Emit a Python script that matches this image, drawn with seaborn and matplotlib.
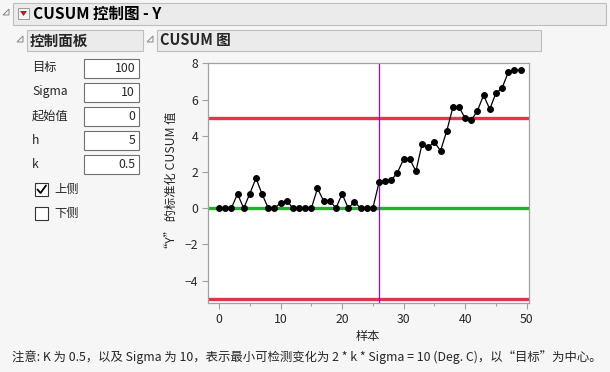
import matplotlib
matplotlib.use("Agg")
import matplotlib.pyplot as plt
import seaborn as sns
import pandas as pd
from matplotlib.patches import Rectangle, Polygon

sns.set_theme(style="white")
plt.rcParams['font.family'] = ['Noto Sans CJK SC', 'DejaVu Sans']

# ---- data ----
samples = list(range(50))
cusum = [0, 0, 0, 0.79, 0, 0.8, 1.66, 0.77, 0, 0,
         0.29, 0.42, 0, 0, 0, 0, 1.09, 0.40, 0.42, 0,
         0.79, 0, 0.35, 0, 0, 0, 1.42, 1.51, 1.55, 1.97,
         2.71, 2.71, 2.04, 3.55, 3.37, 3.65, 3.17, 4.25, 5.56, 5.60,
         4.96, 4.86, 5.38, 6.24, 5.47, 6.35, 6.63, 7.50, 7.61, 7.62]
h_limit = 5
center = 0
shift_at = 26
x_ticks = [0, 10, 20, 30, 40, 50]
y_ticks = [-4, -2, 0, 2, 4, 6, 8]
panel_labels = ["目标", "Sigma", "起始值", "h", "k"]
panel_values = ["100", "10", "0", "5", "0.5"]
checks = [("上侧", True), ("下侧", False)]

df = pd.DataFrame({"样本": samples, "cusum": cusum})

W, H = 610, 372
fig = plt.figure(figsize=(W / 100, H / 100), dpi=100)
fig.patch.set_facecolor("#F6F6F6")

# overlay in pixel coords
ov = fig.add_axes([0, 0, 1, 1])
ov.set_xlim(0, W)
ov.set_ylim(H, 0)
ov.axis("off")
ov.set_zorder(0)

def bar(x0, y0, x1, y1):
    ov.add_patch(Rectangle((x0, y0), x1 - x0, y1 - y0, facecolor="#EBEBEB",
                           edgecolor="#BEBEBE", lw=0.8))

def disclosure(x, y):
    ov.add_patch(Polygon([(x, y + 4), (x + 6, y + 4), (x + 6, y - 2)], closed=True,
                         facecolor="none", edgecolor="#888888", lw=0.7))

# title bar
bar(13, 3, 606, 25)
disclosure(3, 11)
ov.add_patch(Rectangle((18, 8), 11, 11, facecolor="#F4F4F4", edgecolor="#999999", lw=0.7))
ov.add_patch(Polygon([(20, 11), (27, 11), (23.5, 16)], closed=True, facecolor="#D0102A", edgecolor="none"))
ov.text(33, 14, "CUSUM 控制图 - Y", fontsize=11.2, fontweight="bold", va="center", ha="left", color="black")

# control panel bar
bar(27, 30, 143, 51)
disclosure(17, 38)
ov.text(30, 40.5, "控制面板", fontsize=10.5, fontweight="bold", va="center", ha="left")

# chart bar
bar(157, 30, 541, 51)
disclosure(147, 38)
ov.text(160, 40.5, "CUSUM 图", fontsize=10.5, fontweight="bold", va="center", ha="left")

# control panel fields
for i, (lab, val) in enumerate(zip(panel_labels, panel_values)):
    yc = 68 + i * 24
    ov.text(32, yc, lab, fontsize=8.8, va="center", ha="left")
    ov.add_patch(Rectangle((84, yc - 9), 55, 19, facecolor="white", edgecolor="#707070", lw=0.8))
    ov.text(135, yc, val, fontsize=8.8, va="center", ha="right")

for i, (lab, checked) in enumerate(checks):
    yc = 189.5 + i * 23.5
    ov.add_patch(Rectangle((35, yc - 6.5), 13, 13, facecolor="white", edgecolor="#333333", lw=0.8))
    if checked:
        ov.plot([37.5, 40.5, 46], [yc, yc + 3.5, yc - 4], color="black", lw=1.3)
    ov.text(54, yc, lab, fontsize=8.8, va="center", ha="left")

# footnote
ov.text(12, 357, "注意: K 为 0.5，以及 Sigma 为 10，表示最小可检测变化为 2 * k * Sigma = 10 (Deg. C)，以“目标”为中心。",
        fontsize=8.9, va="center", ha="left")

# ---- main chart ----
ax = fig.add_axes([208 / W, 1 - 303.3 / H, 320.5 / W, 240 / H])
ax.set_zorder(2)
ax.set_facecolor("white")
ax.axhline(h_limit, color="#EE3048", lw=2.4, zorder=2)
ax.axhline(-h_limit, color="#E2334A", lw=2.4, zorder=2)
ax.axhline(center, color="#22B030", lw=2.4, zorder=2)
ax.axvline(shift_at, color="#A000F5", lw=0.9, zorder=2)
sns.lineplot(data=df, x="样本", y="cusum", ax=ax, color="black", lw=0.9,
             marker="o", markersize=4.2, markeredgecolor="black", zorder=3)
ax.set_xlim(-1.8, 50.3)
ax.set_ylim(-5.25, 8)
ax.set_xticks(x_ticks)
ax.set_xticks([5, 15, 25, 35, 45], minor=True)
ax.set_yticks(y_ticks)
ax.tick_params(axis="both", which="major", direction="out", length=4, width=0.8,
               color="#A0A0A0", labelsize=8.8, pad=3, bottom=True, left=True)
ax.tick_params(axis="x", which="minor", direction="out", length=2.5, width=0.8,
               color="#A0A0A0", bottom=True)
for s in ax.spines.values():
    s.set_color("#A0A0A0")
    s.set_linewidth(0.9)
ax.set_xlabel("样本", fontsize=8.8, labelpad=3)
ax.set_ylabel("“Y” 的标准化 CUSUM 值", fontsize=8.8, labelpad=5)

fig.savefig("out.png", dpi=100, facecolor=fig.get_facecolor())
